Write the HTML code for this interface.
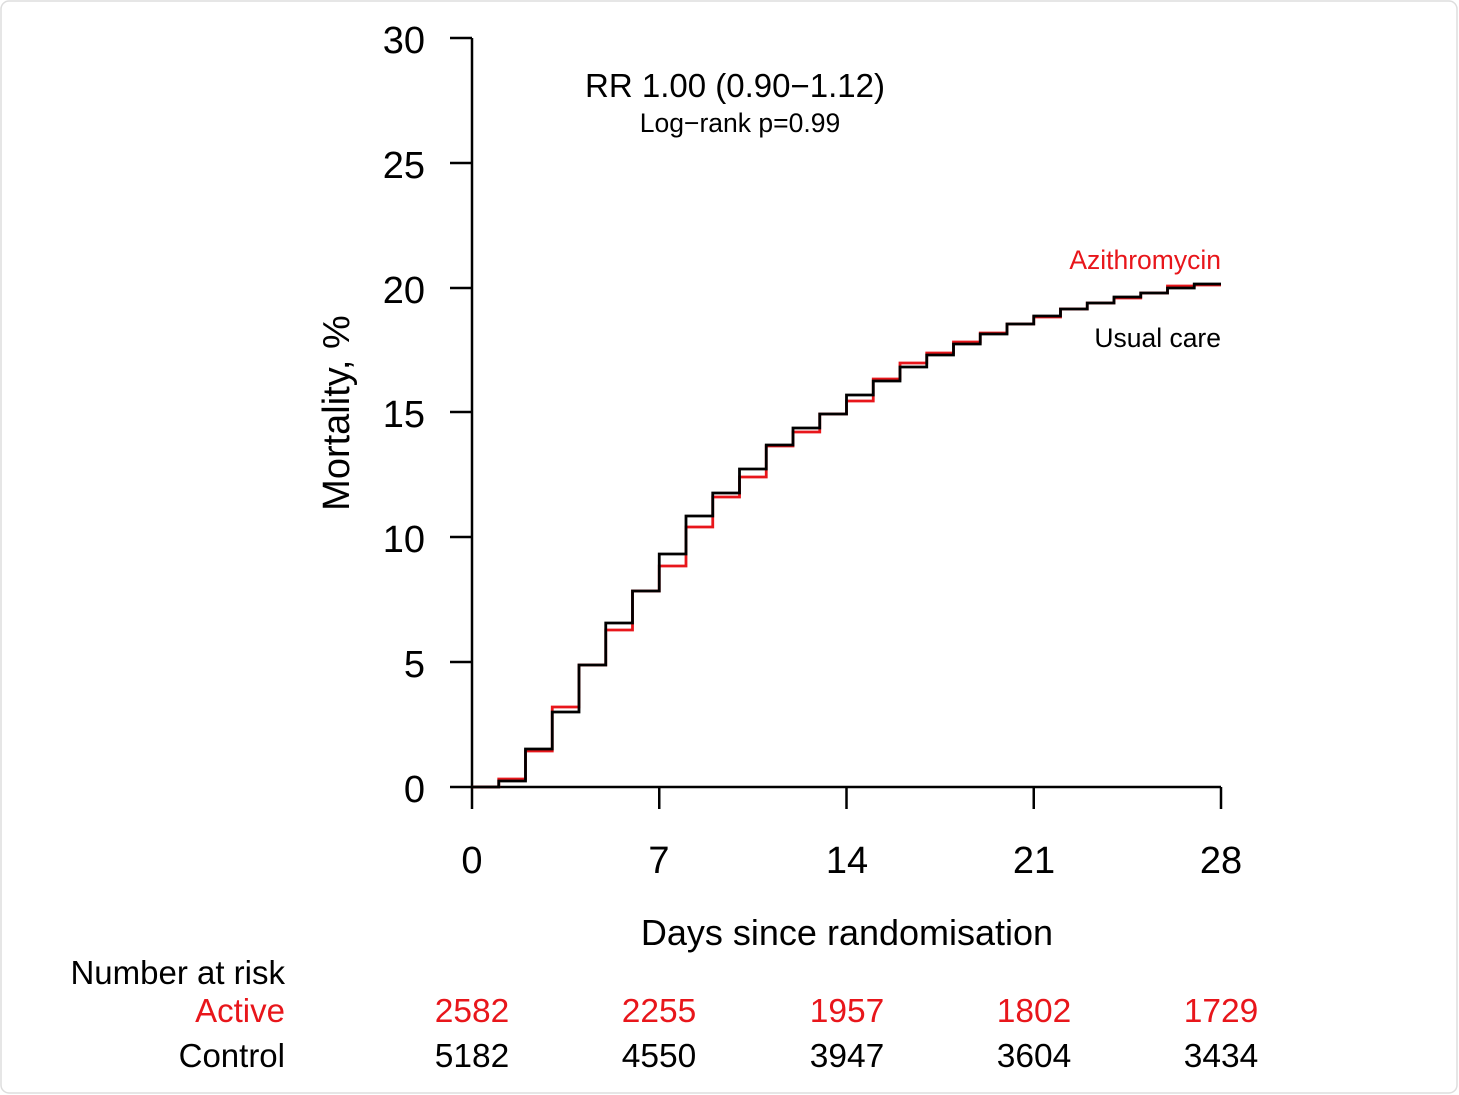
<!DOCTYPE html>
<html><head><style>
html,body{margin:0;padding:0;background:#fff;}
svg{display:block;}
text{font-family:"Liberation Sans",Arial,sans-serif;}
</style></head><body>
<svg width="1459" height="1095" viewBox="0 0 1459 1095" xmlns="http://www.w3.org/2000/svg">
<rect x="1" y="1" width="1456" height="1092" rx="8" fill="#fff" stroke="#ddd" stroke-width="1.5"/>
<g stroke="#000" stroke-width="2.5" fill="none">
<path d="M472 38 V787 H1221"/>
<path d="M450 38 H472 M450 163 H472 M450 288 H472 M450 412 H472 M450 537 H472 M450 662 H472 M450 787 H472"/>
<path d="M472 787 V809 M659.25 787 V809 M846.5 787 V809 M1033.75 787 V809 M1221 787 V809"/>
</g>
<g font-size="38" text-anchor="end" fill="#000">
<text x="425" y="53">30</text><text x="425" y="178">25</text><text x="425" y="303">20</text>
<text x="425" y="427">15</text><text x="425" y="552">10</text><text x="425" y="677">5</text><text x="425" y="802">0</text>
</g>
<g font-size="38" text-anchor="middle" fill="#000">
<text x="472" y="873">0</text><text x="659" y="873">7</text><text x="847" y="873">14</text><text x="1034" y="873">21</text><text x="1221" y="873">28</text>
</g>
<text transform="translate(349,413) rotate(-90)" font-size="38" text-anchor="middle">Mortality, %</text>
<text x="847" y="945" font-size="36" text-anchor="middle">Days since randomisation</text>
<text x="735" y="97" font-size="33" text-anchor="middle">RR 1.00 (0.90−1.12)</text>
<text x="740" y="132" font-size="26.5" text-anchor="middle">Log−rank p=0.99</text>
<text x="1221" y="269" font-size="26.5" text-anchor="end" fill="#e8161b">Azithromycin</text>
<text x="1221" y="347" font-size="26.5" text-anchor="end">Usual care</text>
<path fill="none" stroke="#e8161b" stroke-width="2.8" d="M472,787 H498.75 V779 H525.5 V751 H552.25 V707 H579 V665 H605.75 V630 H632.5 V591 H659.25 V566 H686 V527 H712.75 V497 H739.5 V477 H766.25 V446 H793 V432 H819.75 V414 H846.5 V401 H873.25 V379 H900 V363 H926.75 V353 H953.5 V342 H980.25 V333 H1007 V324 H1033.75 V317 H1060.5 V309 H1087.25 V303 H1114 V298 H1140.75 V293 H1167.5 V286 H1194.25 V285 H1221"/>
<path fill="none" stroke="#000" stroke-width="2.8" d="M472,787 H498.75 V781 H525.5 V749 H552.25 V712 H579 V665 H605.75 V623 H632.5 V591 H659.25 V554 H686 V516 H712.75 V493 H739.5 V469 H766.25 V445 H793 V428 H819.75 V414 H846.5 V395 H873.25 V381 H900 V367 H926.75 V355 H953.5 V344 H980.25 V334 H1007 V324 H1033.75 V316 H1060.5 V309 H1087.25 V303 H1114 V297 H1140.75 V293 H1167.5 V288 H1194.25 V284 H1221"/>
<g font-size="33">
<text x="285" y="984" text-anchor="end">Number at risk</text>
<text x="285" y="1022" text-anchor="end" fill="#e8161b">Active</text>
<text x="285" y="1067" text-anchor="end">Control</text>
</g>
<g font-size="33.5" text-anchor="middle" fill="#e8161b">
<text x="472" y="1022">2582</text><text x="659" y="1022">2255</text><text x="847" y="1022">1957</text><text x="1034" y="1022">1802</text><text x="1221" y="1022">1729</text>
</g>
<g font-size="33.5" text-anchor="middle" fill="#000">
<text x="472" y="1067">5182</text><text x="659" y="1067">4550</text><text x="847" y="1067">3947</text><text x="1034" y="1067">3604</text><text x="1221" y="1067">3434</text>
</g>
</svg>
</body></html>
